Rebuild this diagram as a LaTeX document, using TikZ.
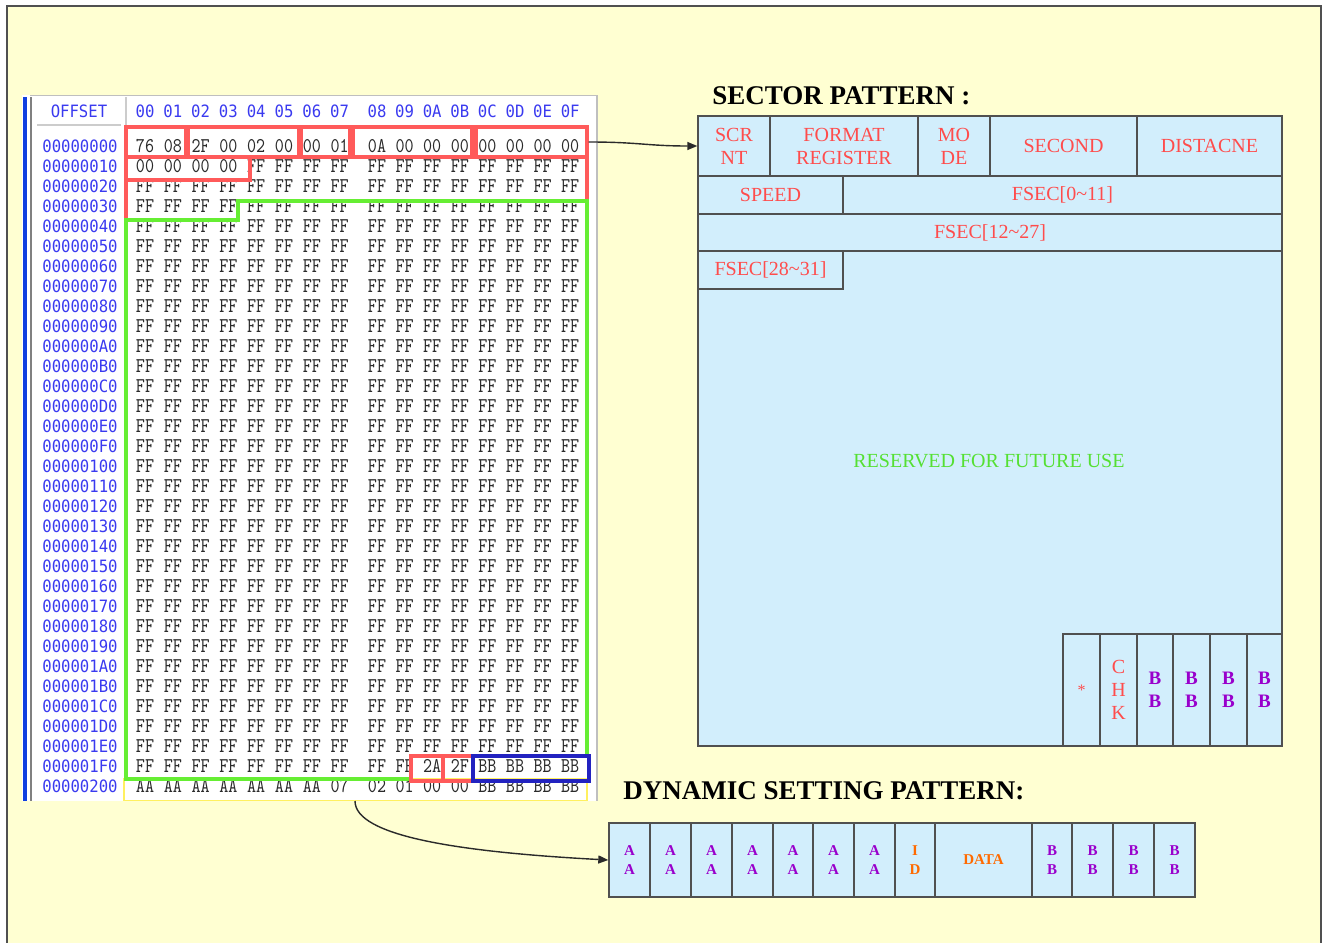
\documentclass[tikz,border=0pt]{standalone}
\usepackage{fontspec}
\usepackage{graphicx}
\setmainfont{Liberation Serif}
\newfontfamily\offfont[FakeStretch=0.92]{DejaVu Sans Mono}
\usetikzlibrary{arrows.meta}

\definecolor{bgyellow}{HTML}{FFFFD2}
\definecolor{framegray}{HTML}{505050}
\definecolor{cellblue}{HTML}{D2EEFC}
\definecolor{redline}{HTML}{FF5A5A}
\definecolor{redtext}{HTML}{FF4C4C}
\definecolor{greenline}{HTML}{66EE33}
\definecolor{greentext}{HTML}{55E033}
\definecolor{purp}{HTML}{9900CC}
\definecolor{orng}{HTML}{FF6A00}
\definecolor{offblue}{HTML}{3A3AF0}
\definecolor{boxblue}{HTML}{2222C0}
\definecolor{hexgray}{HTML}{2A2A2A}
\definecolor{barblue}{HTML}{1040E0}
\definecolor{yelline}{HTML}{FFF060}

\tikzset{
  sz/.style 2 args={minimum width=#1*0.5pt, minimum height=#2*0.5pt},
  hex/.style={font=\ttfamily\fontsize{10.5}{10.5}\selectfont, text=hexgray, inner sep=0pt},
  offs/.style={font=\offfont\fontsize{8.5}{8.5}\selectfont, text=offblue, inner sep=0pt},
  cell/.style={draw=framegray, fill=cellblue, line width=0.7pt, inner sep=0pt, align=center,
    font=\fontsize{10}{11.5}\selectfont, text=redtext},
  bcell/.style={cell, text=purp, font=\bfseries\fontsize{9.5}{11.5}\selectfont},
  dcell/.style={cell, text=purp, font=\bfseries\fontsize{7.5}{9.5}\selectfont},
  ocell/.style={dcell, text=orng},
  redbox/.style={draw=redline, line width=1.6pt, inner sep=0pt},
  redboxb/.style={draw=redline, line width=2.2pt, inner sep=0pt},
  bluebox/.style={draw=boxblue, line width=2.2pt, inner sep=0pt},
  title/.style={font=\bfseries\fontsize{13.5}{14}\selectfont, text=black, inner sep=0pt, anchor=west},
  conn/.style={draw=hexgray, line width=0.7pt, -{Triangle[length=5pt,width=4pt]}},
}

\newcommand\hexrow[2]{%
  \foreach \v [count=\c from 0] in {#2} {%
    \pgfmathsetmacro\xx{\c<8 ? 145+27.8*\c : 377+27.6*(\c-8)}%
    \node[hex] (h#1-\c) at (\xx,{146+20*#1}) {\scalebox{0.82}[1]{\v}};
  }%
}

\begin{document}
\begin{tikzpicture}[x=0.5pt,y=-0.5pt]
\useasboundingbox (0,0) rectangle (1322,942);
\clip (0,0) rectangle (1322,942);
\fill[white] (0,0) rectangle (1322,942);
\draw[draw=framegray, fill=bgyellow, line width=1pt] (7,6) rectangle (1321,960);

% ---------- hex panel ----------
\fill[white] (22,95) rectangle (597,801);
\draw[gray!50, line width=0.6pt] (30,95.5) -- (597,95.5) -- (597,801);
\fill[barblue] (23,97) rectangle (27,801);
\draw[gray, line width=0.8pt] (31,97) -- (31,801);
\draw[gray!40, line width=0.6pt] (37,125) -- (121,125);
\draw[gray!40, line width=0.6pt] (126,97) -- (126,125);

\node[offs] (offhdr) at (79,111) {OFFSET};
\foreach \v [count=\c from 0] in {00,01,02,03,04,05,06,07,08,09,0A,0B,0C,0D,0E,0F} {
  \pgfmathsetmacro\xx{\c<8 ? 145+27.8*\c : 377+27.6*(\c-8)}
  \node[offs] (col\c) at (\xx,111) {\v};
}
\foreach \o [count=\r from 0] in {00000000,00000010,00000020,00000030,00000040,00000050,00000060,00000070,00000080,00000090,000000A0,000000B0,000000C0,000000D0,000000E0,000000F0,00000100,00000110,00000120,00000130,00000140,00000150,00000160,00000170,00000180,00000190,000001A0,000001B0,000001C0,000001D0,000001E0,000001F0,00000200} {
  \node[offs] (o\r) at (80,{146+20*\r}) {\o};
}

\hexrow{0}{76,08,2F,00,02,00,00,01,0A,00,00,00,00,00,00,00}
\hexrow{1}{00,00,00,00,FF,FF,FF,FF,FF,FF,FF,FF,FF,FF,FF,FF}
\foreach \r in {2,...,30} {\hexrow{\r}{FF,FF,FF,FF,FF,FF,FF,FF,FF,FF,FF,FF,FF,FF,FF,FF}}
\hexrow{31}{FF,FF,FF,FF,FF,FF,FF,FF,FF,FF,2A,2F,BB,BB,BB,BB}
\hexrow{32}{AA,AA,AA,AA,AA,AA,AA,07,02,01,00,00,BB,BB,BB,BB}

% marked regions
\draw[yelline, line width=0.8pt] (124,779) rectangle (587,800.5);
\node[redbox, sz={60}{30}] (rb1) at (156,142) {};
\node[redbox, sz={111}{30}] (rb2) at (243.5,142) {};
\node[redbox, sz={49}{30}] (rb3) at (325.5,142) {};
\node[redbox, sz={119}{30}] (rb4) at (412.5,142) {};
\node[redbox, sz={111}{30}] (rb5) at (531.5,142) {};
\node[redbox, sz={124}{23}] (rb6) at (188,168.5) {};
\draw[redline, line width=1.6pt] (126,157) -- (126,219);
\draw[redline, line width=1.6pt] (587,157) -- (587,201);
\draw[greenline, line width=2pt] (411,779) -- (126,779) -- (126,220) -- (238,220) -- (238,201) -- (587,201) -- (587,756);
\node[redboxb, sz={32}{25}] (rb7) at (427,768.5) {};
\node[redboxb, sz={30}{25}] (rb8) at (458,768.5) {};
\node[bluebox, sz={116}{25}] (bb1) at (531,768.5) {};

% ---------- sector pattern ----------
\node[title] (sectitle) at (712,96) {SECTOR PATTERN :};
\node[cell, sz={584}{630}] (sector) at (990,431) {};
\node[cell, sz={72}{60}] (scr) at (734,146) {SCR\\NT};
\node[cell, sz={148}{60}] (fmt) at (844,146) {FORMAT\\REGISTER};
\node[cell, sz={72}{60}] (mode) at (954,146) {MO\\DE};
\node[cell, sz={147}{60}] (second) at (1063.5,146) {SECOND};
\node[cell, sz={145}{60}] (dist) at (1209.5,146) {DISTACNE};
\node[cell, sz={145}{38}] (speed) at (770.5,195) {SPEED};
\node[cell, sz={439}{38}] (fsecA) at (1062.5,195) {FSEC[0\char`~11]};
\node[cell, sz={584}{37}] (fsecB) at (990,232.5) {FSEC[12\char`~27]};
\node[cell, sz={145}{38}] (fsecC) at (770.5,270) {FSEC[28\char`~31]};
\node[text=greentext, font=\fontsize{10}{12}\selectfont, inner sep=0pt] (reserved) at (989,461) {RESERVED FOR FUTURE USE};
\node[cell, sz={37}{112}, font=\fontsize{8}{9}\selectfont] (star) at (1081.5,690) {*};
\node[cell, sz={37}{112}] (chk) at (1118.5,690) {C\\H\\K};
\node[bcell, sz={36}{112}] (sb1) at (1155,690) {B\\B};
\node[bcell, sz={37}{112}] (sb2) at (1191.5,690) {B\\B};
\node[bcell, sz={37}{112}] (sb3) at (1228.5,690) {B\\B};
\node[bcell, sz={35}{112}] (sb4) at (1264.5,690) {B\\B};

% ---------- dynamic setting pattern ----------
\node[title] (dyntitle) at (623,791) {DYNAMIC SETTING PATTERN:};
\node[dcell, sz={41}{74}] (a1) at (629.5,860) {A\\A};
\node[dcell, sz={41}{74}] (a2) at (670.5,860) {A\\A};
\node[dcell, sz={41}{74}] (a3) at (711.5,860) {A\\A};
\node[dcell, sz={41}{74}] (a4) at (752.5,860) {A\\A};
\node[dcell, sz={40}{74}] (a5) at (793,860) {A\\A};
\node[dcell, sz={41}{74}] (a6) at (833.5,860) {A\\A};
\node[dcell, sz={41}{74}] (a7) at (874.5,860) {A\\A};
\node[ocell, sz={40}{74}] (id) at (915,860) {I\\D};
\node[ocell, sz={97}{74}] (data) at (983.5,860) {DATA};
\node[dcell, sz={40}{74}] (d1) at (1052,860) {B\\B};
\node[dcell, sz={41}{74}] (d2) at (1092.5,860) {B\\B};
\node[dcell, sz={41}{74}] (d3) at (1133.5,860) {B\\B};
\node[dcell, sz={41}{74}] (d4) at (1174.5,860) {B\\B};

% ---------- connectors ----------
\draw[conn] (rb5.east) .. controls +(50,0) and +(-50,0) .. (scr.west);
\coordinate (dynstart) at (355,801);
\draw[conn] (dynstart) .. controls +(0,35) and +(-150,-8) .. (a1.west);
\end{tikzpicture}
\end{document}
